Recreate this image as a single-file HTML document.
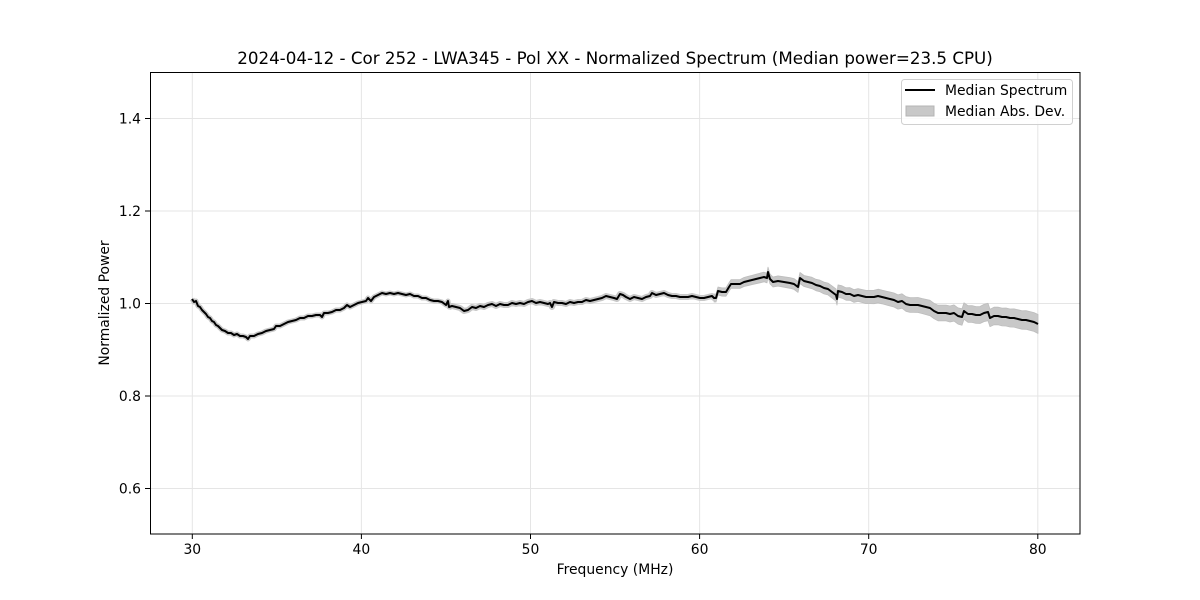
<!DOCTYPE html>
<html><head><meta charset="utf-8"><style>
html,body{margin:0;padding:0;background:#fff;}
svg{display:block;}
text{font-family:"DejaVu Sans","Liberation Sans",sans-serif;fill:#000;}
</style></head><body>
<svg width="1200" height="600" viewBox="0 0 1200 600" xmlns="http://www.w3.org/2000/svg">
<rect width="1200" height="600" fill="#fff"/>
<!-- grid -->
<g stroke="#e5e5e5" stroke-width="1">
<line x1="192.3" y1="72" x2="192.3" y2="534"/>
<line x1="361.4" y1="72" x2="361.4" y2="534"/>
<line x1="530.5" y1="72" x2="530.5" y2="534"/>
<line x1="699.6" y1="72" x2="699.6" y2="534"/>
<line x1="868.7" y1="72" x2="868.7" y2="534"/>
<line x1="1037.8" y1="72" x2="1037.8" y2="534"/>
<line x1="150" y1="118.5" x2="1080" y2="118.5"/>
<line x1="150" y1="211" x2="1080" y2="211"/>
<line x1="150" y1="303.5" x2="1080" y2="303.5"/>
<line x1="150" y1="396" x2="1080" y2="396"/>
<line x1="150" y1="488.5" x2="1080" y2="488.5"/>
</g>
<!-- band (MAD) -->
<g fill="none" stroke="#c8c8c8" stroke-linejoin="round" stroke-linecap="butt">
<polyline stroke-width="5" points="192,299 194,302 196,301 198,306 200,307 202,310 204,312 206,314 208,317 210,318 212,321 214,322 216,325 218,326 220,328 222,330 225,331 228,333 231,333 234,335 237,334 240,336 243,336 246,337 248,339 250,336 254,336 258,334 262,333 266,331 270,330 274,329 276,326 280,326 284,324 288,322 292,321 296,320 300,318 304,318 308,316 312,316 316,315 320,315 322,317 324,313 328,313 332,312 336,310 340,310 344,308 347,305 350,307 354,305 358,303 362,302 366,301 368,298 371,301 374,297 378,295 382,293 386,294 390,293 394,294 398,293 402,294 406,295 410,294 414,296 418,296 422,298 426,298 430,300 434,301 438,301 442,302 446,305 448,301 449,307 452,306"/>
<polyline stroke-width="6" points="449,307 452,306 456,307 460,308 464,311 468,310 472,307 476,308 480,306 484,307 488,305 492,304 496,306 500,304 504,305 508,305 512,303 516,304 520,303 524,304 528,302 532,301 536,303 540,302 544,303 548,304 550,303 552,307 554,302 558,303 562,303 566,304 570,302 574,303 578,302 582,302 586,300 590,301 594,300 598,299 602,298 606,296 610,297 614,298 617,299 620,294 623,295 626,297 630,299 634,297 638,298 642,299 646,297 650,296 652,293 656,295 660,294 664,293 668,295 672,296 676,296 680,297 684,297 688,297 692,296 696,297 700,298 704,298 708,297 712,296 714,298 716,298"/>
</g>
<polygon fill="#c8c8c8" stroke="#bdbdbd" stroke-width="0.8" stroke-linejoin="round" points="714,294 716,294 718,287 722,287.9 726,287.8 729,282.7 731,279.7 735,279.6 740,279.6 744,277.5 748,276.4 752,275.4 756,274.3 760,273.2 764,272.2 767,273.1 768,267.1 770,274.1 773,277 778,275.9 784,276.8 790,277.7 794,278.6 798,281.6 800,272.5 804,275.5 808,276.4 812,277.3 816,279.3 820,280.2 824,282.1 828,283.1 832,286 836,288.9 837,292.9 838,284.9 842,285.8 846,287.8 850,287.7 854,289.6 858,288.6 862,289.5 866,290.4 870,290.4 874,290.3 878,289.2 882,290.2 886,291.1 890,292 894,293 898,294.9 902,293.8 906,296.7 910,297.7 914,297.6 918,297.5 922,298.5 926,299.4 930,300.3 934,303.3 938,305.2 942,305.1 946,305.1 950,306 954,304.9 958,307.9 962,308.8 964,302.8 968,305.7 972,305.6 976,306.6 980,306.5 984,304.4 988,303.3 990,309.3 994,307.2 998,307.2 1002,308.1 1006,308 1010,309 1014,308.9 1018,309.8 1022,310.8 1026,310.7 1030,311.6 1034,312.6 1038,314.5 1038,333.5 1034,331.4 1030,330.4 1026,329.3 1022,329.2 1018,328.2 1014,327.1 1010,327 1006,326 1002,325.9 998,324.8 994,324.8 990,326.7 988,320.7 984,321.6 980,323.5 976,323.4 972,322.4 968,322.3 964,319.2 962,325.2 958,324.1 954,321.1 950,322 946,320.9 942,320.9 938,320.8 934,318.7 930,315.7 926,314.6 922,313.5 918,312.5 914,312.4 910,312.3 906,311.3 902,308.2 898,309.1 894,307 890,306 886,304.9 882,303.8 878,302.8 874,303.7 870,303.6 866,303.6 862,302.5 858,301.4 854,302.4 850,300.3 846,300.2 842,298.2 838,297.1 837,305.1 836,301.1 832,298 828,294.9 824,293.9 820,291.8 816,290.7 812,288.7 808,287.6 804,286.5 800,283.5 798,292.4 794,289.4 790,288.3 784,287.2 778,286.1 773,287 770,283.9 768,276.9 767,282.9 764,281.8 760,282.8 756,283.7 752,284.6 748,285.6 744,286.5 740,288.4 735,288.4 731,288.3 729,291.3 726,296.2 722,296.1 718,295 716,302 714,302"/>
<!-- median line -->
<polyline fill="none" stroke="#000" stroke-width="2" stroke-linejoin="round" points="192,299 194,302 196,301 198,306 200,307 202,310 204,312 206,314 208,317 210,318 212,321 214,322 216,325 218,326 220,328 222,330 225,331 228,333 231,333 234,335 237,334 240,336 243,336 246,337 248,339 250,336 254,336 258,334 262,333 266,331 270,330 274,329 276,326 280,326 284,324 288,322 292,321 296,320 300,318 304,318 308,316 312,316 316,315 320,315 322,317 324,313 328,313 332,312 336,310 340,310 344,308 347,305 350,307 354,305 358,303 362,302 366,301 368,298 371,301 374,297 378,295 382,293 386,294 390,293 394,294 398,293 402,294 406,295 410,294 414,296 418,296 422,298 426,298 430,300 434,301 438,301 442,302 446,305 448,301 449,307 452,306 456,307 460,308 464,311 468,310 472,307 476,308 480,306 484,307 488,305 492,304 496,306 500,304 504,305 508,305 512,303 516,304 520,303 524,304 528,302 532,301 536,303 540,302 544,303 548,304 550,303 552,307 554,302 558,303 562,303 566,304 570,302 574,303 578,302 582,302 586,300 590,301 594,300 598,299 602,298 606,296 610,297 614,298 617,299 620,294 623,295 626,297 630,299 634,297 638,298 642,299 646,297 650,296 652,293 656,295 660,294 664,293 668,295 672,296 676,296 680,297 684,297 688,297 692,296 696,297 700,298 704,298 708,297 712,296 714,298 716,298 718,291 722,292 726,292 729,287 731,284 735,284 740,284 744,282 748,281 752,280 756,279 760,278 764,277 767,278 768,272 770,279 773,282 778,281 784,282 790,283 794,284 798,287 800,278 804,281 808,282 812,283 816,285 820,286 824,288 828,289 832,292 836,295 837,299 838,291 842,292 846,294 850,294 854,296 858,295 862,296 866,297 870,297 874,297 878,296 882,297 886,298 890,299 894,300 898,302 902,301 906,304 910,305 914,305 918,305 922,306 926,307 930,308 934,311 938,313 942,313 946,313 950,314 954,313 958,316 962,317 964,311 968,314 972,314 976,315 980,315 984,313 988,312 990,318 994,316 998,316 1002,317 1006,317 1010,318 1014,318 1018,319 1022,320 1026,320 1030,321 1034,322 1038,324"/>
<!-- axes frame -->
<rect x="150.5" y="72.5" width="929.5" height="461.5" fill="none" stroke="#000" stroke-width="1"/>
<!-- ticks -->
<g stroke="#000" stroke-width="1">
<line x1="192.3" y1="534" x2="192.3" y2="539"/>
<line x1="361.4" y1="534" x2="361.4" y2="539"/>
<line x1="530.5" y1="534" x2="530.5" y2="539"/>
<line x1="699.6" y1="534" x2="699.6" y2="539"/>
<line x1="868.7" y1="534" x2="868.7" y2="539"/>
<line x1="1037.8" y1="534" x2="1037.8" y2="539"/>
<line x1="145" y1="118.5" x2="150" y2="118.5"/>
<line x1="145" y1="211" x2="150" y2="211"/>
<line x1="145" y1="303.5" x2="150" y2="303.5"/>
<line x1="145" y1="396" x2="150" y2="396"/>
<line x1="145" y1="488.5" x2="150" y2="488.5"/>
</g>
<g font-size="13.9" text-anchor="middle">
<text x="192.3" y="554">30</text>
<text x="361.4" y="554">40</text>
<text x="530.5" y="554">50</text>
<text x="699.6" y="554">60</text>
<text x="868.7" y="554">70</text>
<text x="1037.8" y="554">80</text>
</g>
<g font-size="13.9" text-anchor="end">
<text x="141" y="123.5">1.4</text>
<text x="141" y="216">1.2</text>
<text x="141" y="308.5">1.0</text>
<text x="141" y="401">0.8</text>
<text x="141" y="493.5">0.6</text>
</g>
<text x="615" y="574" font-size="13.9" text-anchor="middle">Frequency (MHz)</text>
<text transform="translate(109,303) rotate(-90)" font-size="13.9" text-anchor="middle">Normalized Power</text>
<text x="615" y="64" font-size="16.7" text-anchor="middle">2024-04-12 - Cor 252 - LWA345 - Pol XX - Normalized Spectrum (Median power=23.5 CPU)</text>
<!-- legend -->
<rect x="901.5" y="79.5" width="171" height="45" rx="3" fill="#fff" fill-opacity="0.8" stroke="#d0d0d0" stroke-width="1"/>
<line x1="905" y1="90" x2="935" y2="90" stroke="#000" stroke-width="2"/>
<text x="945" y="95" font-size="13.9">Median Spectrum</text>
<rect x="906" y="106" width="28" height="10" fill="#c8c8c8" stroke="#b4b4b4" stroke-width="1"/>
<text x="945" y="116" font-size="13.9">Median Abs. Dev.</text>
</svg>
</body></html>
